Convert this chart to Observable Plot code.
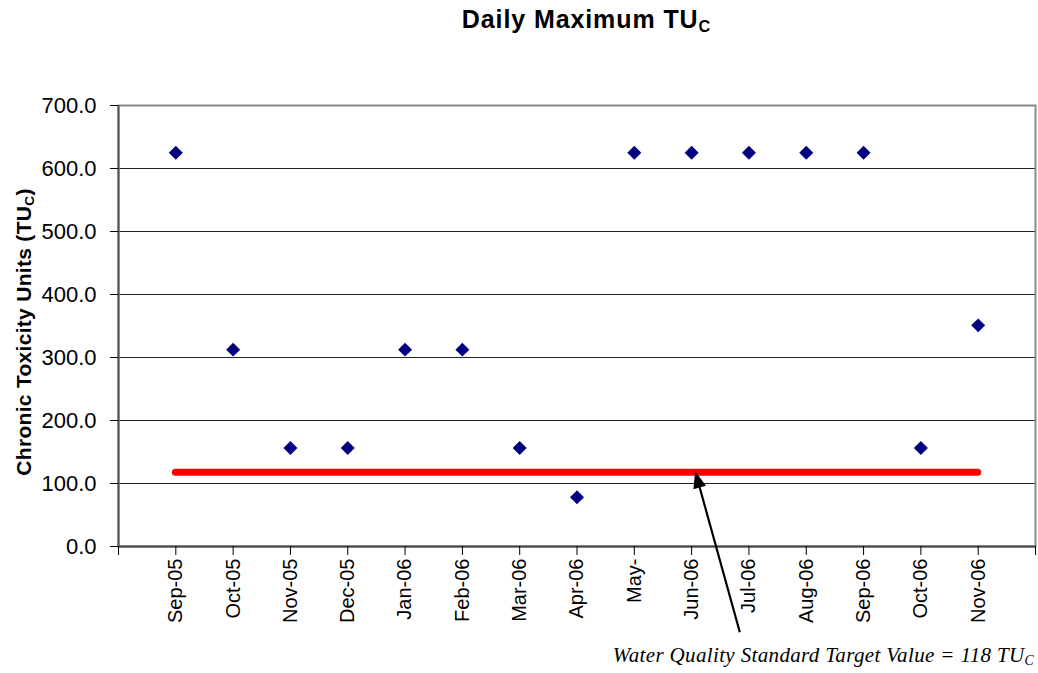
<!DOCTYPE html>
<html>
<head>
<meta charset="utf-8">
<script src="https://cdn.jsdelivr.net/npm/d3@7"></script>
<script src="https://cdn.jsdelivr.net/npm/@observablehq/plot@0.6"></script>
<style>
  html, body { margin: 0; padding: 0; background: #fff; }
  #wrap { position: relative; width: 1038px; height: 673px; overflow: hidden; font-family: "Liberation Sans", Arial, sans-serif; }
  #title { position: absolute; top: 5px; left: 128px; width: 917px; text-align: center; font-weight: bold; font-size: 25px; letter-spacing: 0.9px; color: #000; }
  #ylabel { position: absolute; left: 24px; top: 332px; transform: translate(-50%, -50%) rotate(-90deg); white-space: nowrap; font-weight: bold; font-size: 21px; letter-spacing: 0.3px; color: #000; }
  #caption { position: absolute; right: 4px; top: 643px; font-family: "Liberation Serif", "Times New Roman", serif; font-style: italic; font-size: 21px; letter-spacing: 0.35px; color: #000; white-space: nowrap; }
  sub { font-size: 65%; vertical-align: -0.25em; line-height: 0; }
  #chart { position: absolute; top: 0; left: 0; }
</style>
</head>
<body>
<div id="wrap">
  <div id="chart"></div>
  <div id="title">Daily Maximum TU<sub>C</sub></div>
  <div id="ylabel">Chronic Toxicity Units (TU<sub>C</sub>)</div>
  <div id="caption">Water Quality Standard Target Value = 118 TU<sub>C</sub></div>
</div>
<script>
const months = ["Sep-05","Oct-05","Nov-05","Dec-05","Jan-06","Feb-06","Mar-06","Apr-06","May-","Jun-06","Jul-06","Aug-06","Sep-06","Oct-06","Nov-06"];
const values = [625, 312.5, 156.25, 156.25, 312.5, 312.5, 156.25, 78.1, 625, 625, 625, 625, 625, 156.25, 351];
const target = 118;
const yTicks = [0, 100, 200, 300, 400, 500, 600, 700];
// annotation arrow anchors (x in month index, y in TUc)
const arrowTail = {x: 9.85, y: -137};
const arrowTip = {x: 9.07, y: 119};

const data = months.map((m, i) => ({i, month: m, value: values[i]}));
const xTicks = d3.range(-1, months.length + 1);

const plot = Plot.plot({
  width: 1038,
  height: 673,
  marginTop: 105,
  marginBottom: 127,
  marginLeft: 118,
  marginRight: 3,
  style: {fontFamily: "Liberation Sans, Arial, sans-serif", background: "#fff", color: "#000"},
  x: {type: "linear", domain: [-1, months.length]},
  y: {domain: [0, 700]},
  marks: [
    Plot.ruleY(yTicks.slice(1, -1), {stroke: "#222", strokeWidth: 1}),
    Plot.frame({stroke: "#8a8a8a", strokeWidth: 2}),
    Plot.ruleX([-1], {stroke: "#555", strokeWidth: 2}),
    Plot.ruleY([0], {stroke: "#444", strokeWidth: 2}),
    Plot.axisY({ticks: yTicks, tickFormat: d3.format(".1f"), tickSize: 8, tickPadding: 14, fontSize: 22, label: null, stroke: "#000"}),
    Plot.axisX({ticks: xTicks, tickFormat: i => months[i] ?? "", tickRotate: -90, tickSize: 9, tickPadding: 3, fontSize: 20, label: null, stroke: "#000"}),
    Plot.ruleY([target], {x1: 0, x2: months.length - 1, stroke: "#ff0000", strokeWidth: 7, strokeLinecap: "round"}),
    Plot.dot(data, {x: "i", y: "value", symbol: "diamond2", r: 6.3, fill: "#000080", stroke: "none"})
  ]
});

// annotation arrow, positioned through the plot's own scales
const sx = plot.scale("x"), sy = plot.scale("y");
const x1 = sx.apply(arrowTail.x), y1 = sy.apply(arrowTail.y);
const x2 = sx.apply(arrowTip.x), y2 = sy.apply(arrowTip.y);
const ang = Math.atan2(y2 - y1, x2 - x1);
const headLen = 17, headHalf = 6.5;
const bx = x2 - headLen * Math.cos(ang), by = y2 - headLen * Math.sin(ang);
const px = -Math.sin(ang), py = Math.cos(ang);
const g = d3.select(plot).append("g").attr("aria-label", "annotation-arrow");
g.append("line")
  .attr("x1", x1).attr("y1", y1).attr("x2", bx + 2 * Math.cos(ang)).attr("y2", by + 2 * Math.sin(ang))
  .attr("stroke", "#000").attr("stroke-width", 2.2);
g.append("path")
  .attr("d", `M${x2},${y2}L${bx + headHalf * px},${by + headHalf * py}L${bx - headHalf * px},${by - headHalf * py}Z`)
  .attr("fill", "#000");

document.getElementById("chart").appendChild(plot);
</script>
</body>
</html>
